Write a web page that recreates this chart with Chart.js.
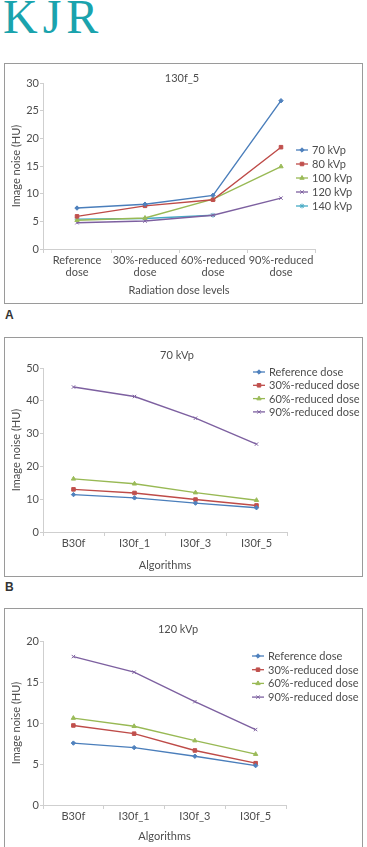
<!DOCTYPE html>
<html>
<head>
<meta charset="utf-8">
<script src="https://cdn.jsdelivr.net/npm/chart.js@4.4.0/dist/chart.umd.min.js"></script>
<style>
  body { margin: 0; width: 367px; height: 847px; background: #fff; overflow: hidden; position: relative; font-family: Lato, sans-serif; }
  .logo { position: absolute; left: 3px; top: -7px; font-family: "Liberation Serif", serif; font-size: 48px; line-height: 48px; color: #1aa3ad; letter-spacing: 5px; }
  .panel { position: absolute; left: 4px; width: 359px; border: 1px solid #9a9a9a; box-sizing: border-box; }
  .panel canvas { position: absolute; left: 0; top: 0; }
  .tag { position: absolute; left: 5px; font-family: "Liberation Sans", sans-serif; font-weight: bold; font-size: 12px; color: #333; line-height: 12px; }
</style>
</head>
<body>
<div class="logo">KJR</div>

<div class="panel" style="top:63px;height:241px"><canvas id="chartA" width="357" height="239"></canvas></div>
<div class="tag" style="top:309px">A</div>

<div class="panel" style="top:337px;height:240px"><canvas id="chartB" width="357" height="238"></canvas></div>
<div class="tag" style="top:581px">B</div>

<div class="panel" style="top:608px;height:242px"><canvas id="chartC" width="357" height="240"></canvas></div>

<script>
// ---- data ----
const doseLevels = [['Reference', 'dose'], ['30%-reduced', 'dose'], ['60%-reduced', 'dose'], ['90%-reduced', 'dose']];
const kvpNames = ['70 kVp', '80 kVp', '100 kVp', '120 kVp', '140 kVp'];
const noiseA70 = [7.4, 8.1, 9.7, 26.8];
const noiseA80 = [5.9, 7.8, 8.9, 18.4];
const noiseA100 = [5.2, 5.6, 9.0, 14.9];
const noiseA120 = [4.75, 5.05, 6.1, 9.2];
const noiseA140 = [5.4, 5.5, 6.1, null];

const algorithms = ['B30f', 'I30f_1', 'I30f_3', 'I30f_5'];
const doseNames = ['Reference dose', '30%-reduced dose', '60%-reduced dose', '90%-reduced dose'];
const noiseB_ref = [11.4, 10.4, 8.8, 7.4];
const noiseB_30 = [13.0, 11.9, 9.9, 8.1];
const noiseB_60 = [16.2, 14.7, 12.0, 9.7];
const noiseB_90 = [44.2, 41.3, 34.7, 26.8];

const noiseC_ref = [7.55, 7.0, 5.95, 4.8];
const noiseC_30 = [9.7, 8.7, 6.65, 5.1];
const noiseC_60 = [10.6, 9.6, 7.85, 6.2];
const noiseC_90 = [18.1, 16.2, 12.6, 9.2];

// ---- styles ----
const lineColors = ['#4a7ebb', '#be4b48', '#98b954', '#7d60a0', '#46aac5'];
const markColors = ['#4f81bd', '#c0504d', '#9bbb59', '#8064a2', '#4bacc6'];
const markStyles = ['rectRot', 'rect', 'triangle', 'crossRot', 'star'];
const markSizes = [2.2, 2.5, 2.5, 2.4, 2.4];
const textColor = '#4d4d4d';
const axisColor = '#cfcfcf';
Chart.defaults.font.family = 'Lato, sans-serif';
Chart.defaults.font.size = 11;
Chart.defaults.color = textColor;

// title + legend drawn at fixed spots, overlapping the plot like the original
const panelDecor = {
    id: 'panelDecor',
    afterDraw(chart, args, opts) {
        const ctx = chart.ctx;
        ctx.save();
        ctx.font = '11px Lato, sans-serif';
        ctx.fillStyle = textColor;
        ctx.textBaseline = 'middle';
        ctx.textAlign = 'center';
        ctx.fillText(opts.title, opts.titleX, opts.titleY);
        ctx.textAlign = 'left';
        chart.data.datasets.forEach(function(ds, i) {
            let y = opts.legendY + i * opts.rowH;
            let x = opts.legendX;
            ctx.strokeStyle = ds.borderColor;
            ctx.lineWidth = 1.3;
            ctx.beginPath();
            ctx.moveTo(x - 6, y);
            ctx.lineTo(x + 6, y);
            ctx.stroke();
            ctx.fillStyle = ds.pointBackgroundColor;
            ctx.strokeStyle = ds.pointBorderColor;
            ctx.lineWidth = 1;
            Chart.helpers.drawPoint(ctx, { pointStyle: ds.pointStyle, radius: ds.pointRadius, borderWidth: 1, rotation: 0 }, x, y);
            ctx.fillStyle = textColor;
            ctx.fillText(ds.label, x + 10, y + 0.5);
        });
        ctx.restore();
    }
};

function makeChart(id, labels, names, series, yMax, yStep, xTitle, box) {
    const datasets = series.map(function(values, i) {
        return {
            label: names[i],
            data: values,
            borderColor: lineColors[i],
            borderWidth: 1.4,
            pointStyle: markStyles[i],
            pointRadius: markSizes[i],
            pointBackgroundColor: markColors[i],
            pointBorderColor: markColors[i],
            pointBorderWidth: 1,
            tension: 0,
            spanGaps: false
        };
    });

    new Chart(document.getElementById(id), {
        type: 'line',
        data: { labels: labels, datasets: datasets },
        options: {
            responsive: false,
            animation: false,
            layout: { padding: { left: 0, top: box.top, right: box.right, bottom: 3 } },
            plugins: {
                legend: { display: false },
                tooltip: { enabled: false },
                panelDecor: box.decor
            },
            scales: {
                x: {
                    offset: true,
                    grid: { offset: true, drawOnChartArea: false, drawTicks: true, tickLength: 4, color: axisColor },
                    border: { color: axisColor },
                    ticks: { padding: 2, color: textColor, font: { size: 11, lineHeight: 1.03 }, maxRotation: 0, autoSkip: false },
                    title: { display: true, text: xTitle, color: textColor, font: { size: 11, lineHeight: 1.2 }, padding: { top: 0, bottom: box.xTitlePad } },
                    afterFit: function(scale) { scale.height = box.xHeight; }
                },
                y: {
                    min: 0,
                    max: yMax,
                    grid: { drawOnChartArea: false, drawTicks: true, tickLength: 3, color: axisColor },
                    border: { color: axisColor },
                    ticks: { stepSize: yStep, padding: 1, color: textColor, font: { size: 11 } },
                    title: { display: true, text: 'Image noise (HU)', color: textColor, font: { size: 11, lineHeight: 1.2 }, padding: { top: 4.5, bottom: 0 } },
                    afterFit: function(scale) { scale.width = 38; }
                }
            }
        },
        plugins: [panelDecor]
    });
}

makeChart('chartA', doseLevels, kvpNames,
    [noiseA70, noiseA80, noiseA100, noiseA120, noiseA140], 30, 5, 'Radiation dose levels',
    { top: 19, right: 47, xHeight: 51, xTitlePad: 3.4,
      decor: { title: '130f_5', titleX: 177, titleY: 14, legendX: 297, legendY: 86, rowH: 14 } });

makeChart('chartB', algorithms, doseNames,
    [noiseB_ref, noiseB_30, noiseB_60, noiseB_90], 50, 10, 'Algorithms',
    { top: 30, right: 75, xHeight: 41, xTitlePad: 1,
      decor: { title: '70 kVp', titleX: 172, titleY: 17, legendX: 254, legendY: 34, rowH: 13.3 } });

makeChart('chartC', algorithms, doseNames,
    [noiseC_ref, noiseC_30, noiseC_60, noiseC_90], 20, 5, 'Algorithms',
    { top: 32, right: 76, xHeight: 41, xTitlePad: 3,
      decor: { title: '120 kVp', titleX: 173, titleY: 20, legendX: 253, legendY: 47, rowH: 13.7 } });
</script>
</body>
</html>
